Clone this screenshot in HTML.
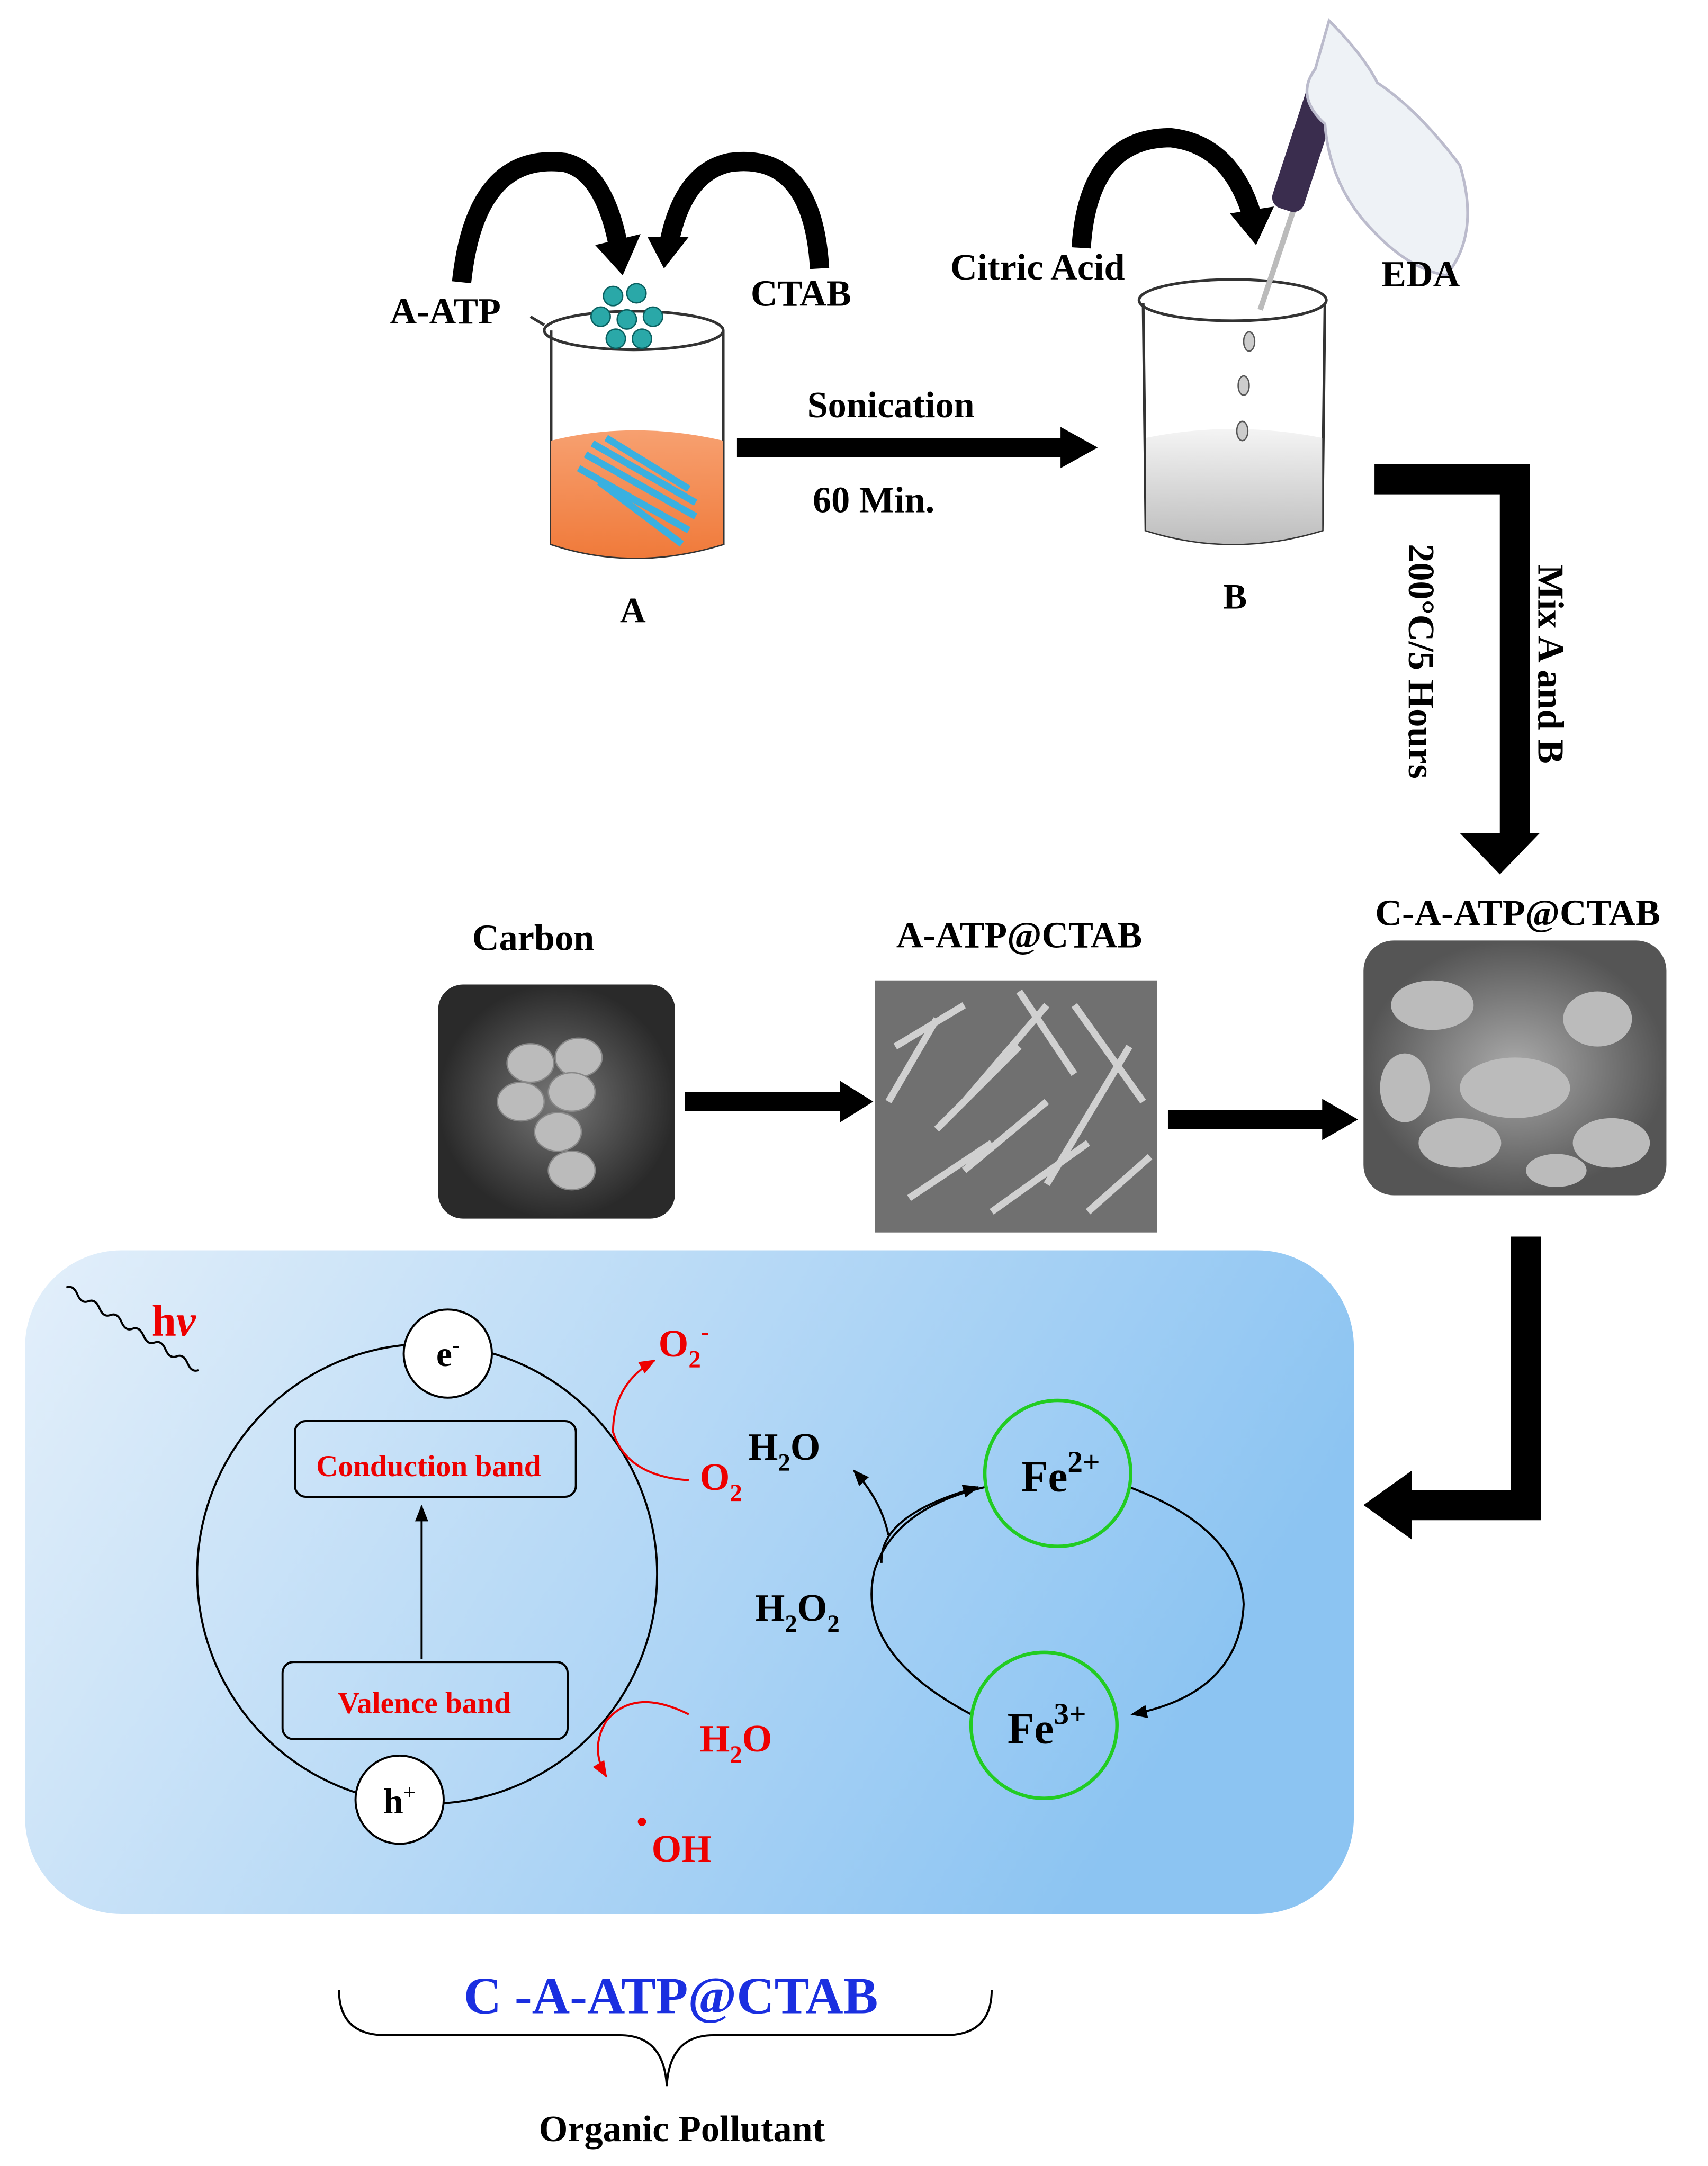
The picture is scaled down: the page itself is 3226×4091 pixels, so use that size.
<!DOCTYPE html>
<html><head><meta charset="utf-8"><style>
html,body{margin:0;padding:0;background:#fff}
svg{display:block}
text{font-family:"Liberation Serif",serif;font-weight:bold}
</style></head><body>
<svg width="3226" height="4091" viewBox="0 0 1240 1573" xmlns="http://www.w3.org/2000/svg">
<defs>
<linearGradient id="bg" x1="0" y1="0" x2="1" y2="0.3">
<stop offset="0" stop-color="#e3effa"/><stop offset="1" stop-color="#8cc4f2"/></linearGradient>
<linearGradient id="or" x1="0" y1="0" x2="0" y2="1"><stop offset="0" stop-color="#f7a070"/><stop offset="1" stop-color="#f07a3a"/></linearGradient>
<linearGradient id="gr" x1="0" y1="0" x2="0" y2="1"><stop offset="0" stop-color="#f4f4f4"/><stop offset="1" stop-color="#bdbdbd"/></linearGradient>
<radialGradient id="sem1"><stop offset="0" stop-color="#777"/><stop offset="1" stop-color="#2a2a2a"/></radialGradient>
<radialGradient id="sem3"><stop offset="0" stop-color="#aaa"/><stop offset="1" stop-color="#555"/></radialGradient>
<marker id="ah" viewBox="0 0 10 10" refX="9" refY="5" markerWidth="8" markerHeight="8" orient="auto"><path d="M0,1 L10,5 L0,9 z" fill="#000"/></marker>
<marker id="ahr" viewBox="0 0 10 10" refX="9" refY="5" markerWidth="8" markerHeight="8" orient="auto"><path d="M0,1 L10,5 L0,9 z" fill="#e00"/></marker>
</defs>

<!-- curved arrows top -->
<path d="M335,205 Q345,110 410,118 Q440,125 450,185" fill="none" stroke="#000" stroke-width="14"/>
<path d="M432,178 L452,200 L465,170 z" fill="#000"/>
<path d="M595,195 Q590,110 530,118 Q495,125 485,180" fill="none" stroke="#000" stroke-width="14"/>
<path d="M470,172 L482,195 L500,172 z" fill="#000"/>
<path d="M785,180 Q790,100 850,100 Q895,105 910,160" fill="none" stroke="#000" stroke-width="14"/>
<path d="M893,155 L912,178 L925,150 z" fill="#000"/>

<!-- beaker A -->
<path d="M400,240 L400,395 Q460,415 525,395 L525,240" fill="#fff" stroke="#333" stroke-width="2"/>
<path d="M400,320 Q460,305 525,320 L525,395 Q460,415 400,395 z" fill="url(#or)"/>
<ellipse cx="460" cy="240" rx="65" ry="14" fill="none" stroke="#333" stroke-width="2"/>
<path d="M395,236 L385,230" stroke="#333" stroke-width="2"/>
<g stroke="#3ab0e0" stroke-width="5"><line x1="420" y1="340" x2="500" y2="385"/><line x1="425" y1="330" x2="505" y2="375"/><line x1="430" y1="322" x2="505" y2="365"/><line x1="435" y1="350" x2="495" y2="395"/><line x1="440" y1="318" x2="500" y2="355"/></g>
<g fill="#2aa8a8" stroke="#0a6060"><circle cx="445" cy="215" r="7"/><circle cx="462" cy="213" r="7"/><circle cx="436" cy="230" r="7"/><circle cx="455" cy="232" r="7"/><circle cx="474" cy="230" r="7"/><circle cx="447" cy="246" r="7"/><circle cx="466" cy="246" r="7"/></g>
<text x="283" y="235" font-size="27">A-ATP</text>
<text x="545" y="222" font-size="27">CTAB</text>
<text x="450" y="452" font-size="26">A</text>

<!-- arrow sonication -->
<rect x="535" y="318" width="240" height="14" fill="#000"/>
<path d="M770,310 L797,325 L770,340 z" fill="#000"/>
<text x="586" y="303" font-size="27">Sonication</text>
<text x="590" y="372" font-size="27">60 Min.</text>

<!-- beaker B -->
<path d="M830,220 L832,385 Q895,405 960,385 L962,220" fill="#fff" stroke="#333" stroke-width="2"/>
<path d="M832,318 Q895,305 960,318 L960,385 Q895,405 832,385 z" fill="url(#gr)"/>
<ellipse cx="895" cy="218" rx="68" ry="15" fill="none" stroke="#333" stroke-width="2"/>
<g fill="#ccc" stroke="#555"><ellipse cx="907" cy="248" rx="4" ry="7"/><ellipse cx="903" cy="280" rx="4" ry="7"/><ellipse cx="902" cy="313" rx="4" ry="7"/></g>
<path d="M915,225 L940,150" stroke="#bbb" stroke-width="4"/>
<rect x="938" y="45" width="24" height="110" rx="8" fill="#3a2d4e" transform="rotate(18 950 100)"/>
<path d="M965,15 Q990,40 1000,60 Q1030,80 1060,120 Q1075,170 1050,200 Q1020,195 990,160 Q965,130 962,90 Q940,70 955,50 z" fill="#eef2f6" stroke="#bbc" stroke-width="2"/>
<text x="690" y="203" font-size="27">Citric Acid</text>
<text x="1003" y="208" font-size="27">EDA</text>
<text x="888" y="442" font-size="26">B</text>

<!-- bent arrow right top -->
<path d="M998,348 L1100,348 L1100,610" fill="none" stroke="#000" stroke-width="22"/>
<path d="M1060,605 L1089,635 L1118,605 z" fill="#000"/>
<text font-size="27" transform="translate(1023,395) rotate(90)">200°C/5 Hours</text>
<text font-size="27" transform="translate(1117,410) rotate(90)">Mix A and B</text>

<!-- SEM images -->
<text x="387" y="690" font-size="27" text-anchor="middle">Carbon</text>
<rect x="318" y="715" width="172" height="170" rx="18" fill="url(#sem1)"/>
<g fill="#bbb" stroke="#888"><ellipse cx="385" cy="772" rx="17" ry="14"/><ellipse cx="420" cy="768" rx="17" ry="14"/><ellipse cx="378" cy="800" rx="17" ry="14"/><ellipse cx="415" cy="793" rx="17" ry="14"/><ellipse cx="405" cy="822" rx="17" ry="14"/><ellipse cx="415" cy="850" rx="17" ry="14"/></g>
<text x="740" y="688" font-size="27" text-anchor="middle">A-ATP@CTAB</text>
<rect x="635" y="712" width="205" height="183" fill="#707070"/>
<g stroke="#d0d0d0" stroke-width="5"><line x1="650" y1="760" x2="700" y2="730"/><line x1="700" y1="800" x2="760" y2="730"/><line x1="760" y1="860" x2="820" y2="760"/><line x1="660" y1="870" x2="720" y2="830"/><line x1="780" y1="730" x2="830" y2="800"/><line x1="680" y1="820" x2="740" y2="760"/><line x1="720" y1="880" x2="790" y2="830"/><line x1="645" y1="800" x2="680" y2="740"/><line x1="790" y1="880" x2="835" y2="840"/><line x1="700" y1="850" x2="760" y2="800"/><line x1="740" y1="720" x2="780" y2="780"/></g>
<text x="1102" y="672" font-size="27" text-anchor="middle">C-A-ATP@CTAB</text>
<rect x="990" y="683" width="220" height="185" rx="22" fill="url(#sem3)"/>
<g fill="#bbb"><ellipse cx="1040" cy="730" rx="30" ry="18"/><ellipse cx="1100" cy="790" rx="40" ry="22"/><ellipse cx="1160" cy="740" rx="25" ry="20"/><ellipse cx="1060" cy="830" rx="30" ry="18"/><ellipse cx="1170" cy="830" rx="28" ry="18"/><ellipse cx="1020" cy="790" rx="18" ry="25"/><ellipse cx="1130" cy="850" rx="22" ry="12"/></g>
<rect x="497" y="793" width="115" height="14" fill="#000"/><path d="M610,785 L634,800 L610,815 z" fill="#000"/>
<rect x="848" y="806" width="115" height="14" fill="#000"/><path d="M960,798 L986,813 L960,828 z" fill="#000"/>

<!-- bent arrow down-left -->
<path d="M1108,898 L1108,1093 L1020,1093" fill="none" stroke="#000" stroke-width="22"/>
<path d="M1025,1068 L990,1093 L1025,1118 z" fill="#000"/>

<!-- blue panel -->
<rect x="18" y="908" width="965" height="482" rx="70" fill="url(#bg)"/>
<path d="M48,935 q5,-2 8,5 q3,7 8,5 q5,-2 8,5 q3,7 8,5 q5,-2 8,5 q3,7 8,5 q5,-2 8,5 q3,7 8,5 q5,-2 8,5 q3,7 8,5 q5,-2 8,5 q3,7 8,5" fill="none" stroke="#000" stroke-width="1.5"/>
<text x="110" y="970" font-size="32" fill="#e00">h<tspan font-style="italic">v</tspan></text>
<circle cx="310" cy="1143" r="167" fill="none" stroke="#000" stroke-width="1.5"/>
<circle cx="325" cy="983" r="32" fill="#fff" stroke="#000" stroke-width="1.5"/>
<text x="325" y="992" font-size="26" text-anchor="middle">e<tspan font-size="16" dy="-10">-</tspan></text>
<circle cx="290" cy="1307" r="32" fill="#fff" stroke="#000" stroke-width="1.5"/>
<text x="290" y="1317" font-size="26" text-anchor="middle">h<tspan font-size="16" dy="-10">+</tspan></text>
<rect x="214" y="1032" width="204" height="55" rx="8" fill="none" stroke="#000" stroke-width="1.5"/>
<text x="311" y="1072" font-size="22" fill="#e00" text-anchor="middle">Conduction band</text>
<rect x="205" y="1207" width="207" height="56" rx="8" fill="none" stroke="#000" stroke-width="1.5"/>
<text x="308" y="1244" font-size="22" fill="#e00" text-anchor="middle">Valence band</text>
<line x1="306" y1="1205" x2="306" y2="1094" stroke="#000" stroke-width="1.5" marker-end="url(#ah)"/>
<path d="M500,1075 Q455,1072 445,1040 Q445,1005 475,988" fill="none" stroke="#e00" stroke-width="1.5" marker-end="url(#ahr)"/>
<text x="478" y="985" font-size="28" fill="#e00">O<tspan font-size="18" dy="8">2</tspan><tspan font-size="18" dy="-20">-</tspan></text>
<text x="508" y="1082" font-size="28" fill="#e00">O<tspan font-size="18" dy="8">2</tspan></text>
<text x="543" y="1060" font-size="28">H<tspan font-size="18" dy="8">2</tspan><tspan dy="-8">O</tspan></text>
<path d="M500,1245 Q460,1225 440,1250 Q428,1270 440,1290" fill="none" stroke="#e00" stroke-width="1.5" marker-end="url(#ahr)"/>
<text x="508" y="1272" font-size="28" fill="#e00">H<tspan font-size="18" dy="8">2</tspan><tspan dy="-8">O</tspan></text>
<circle cx="466" cy="1323" r="3" fill="#e00"/>
<text x="473" y="1352" font-size="28" fill="#e00">OH</text>
<!-- Fe cycle -->
<path d="M715,1080 Q650,1095 635,1140 Q620,1200 705,1245" fill="none" stroke="#000" stroke-width="1.5"/>
<path d="M820,1080 Q900,1110 903,1165 Q900,1230 822,1245" fill="none" stroke="#000" stroke-width="1.5" marker-end="url(#ah)"/>
<path d="M640,1135 Q638,1100 710,1080" fill="none" stroke="#000" stroke-width="1.5" marker-end="url(#ah)"/>
<path d="M645,1115 Q640,1090 620,1068" fill="none" stroke="#000" stroke-width="1.5" marker-end="url(#ah)"/>
<circle cx="768" cy="1070" r="53" fill="none" stroke="#2c2" stroke-width="2.5"/>
<text x="770" y="1083" font-size="32" text-anchor="middle">Fe<tspan font-size="22" dy="-14">2+</tspan></text>
<circle cx="758" cy="1253" r="53" fill="none" stroke="#2c2" stroke-width="2.5"/>
<text x="760" y="1266" font-size="32" text-anchor="middle">Fe<tspan font-size="22" dy="-14">3+</tspan></text>
<text x="548" y="1177" font-size="28">H<tspan font-size="18" dy="8">2</tspan><tspan dy="-8">O</tspan><tspan font-size="18" dy="8">2</tspan></text>

<!-- brace -->
<path d="M246,1445 Q246,1478 280,1478 L450,1478 Q482,1478 484,1515 Q486,1478 518,1478 L686,1478 Q720,1478 720,1445" fill="none" stroke="#000" stroke-width="1.5"/>
<text x="487" y="1462" font-size="38" fill="#1a2fe0" text-anchor="middle">C -A-ATP@CTAB</text>
<text x="495" y="1555" font-size="27" text-anchor="middle">Organic Pollutant</text>
</svg>
</body></html>
